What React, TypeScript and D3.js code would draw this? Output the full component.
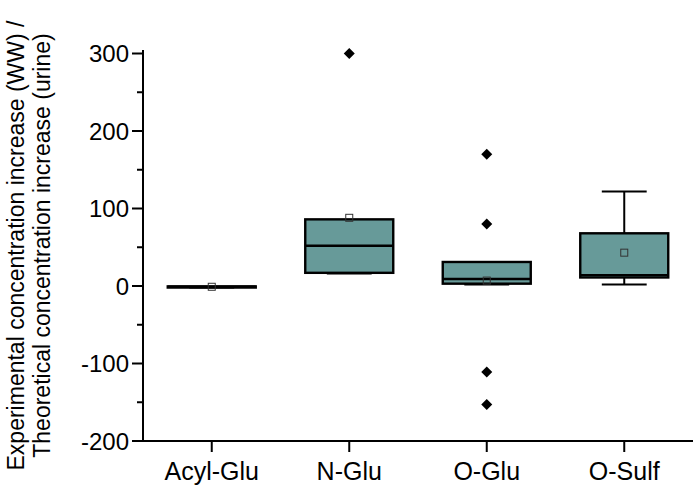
import React from "react";
import * as d3 from "d3";

const categories = ["Acyl-Glu", "N-Glu", "O-Glu", "O-Sulf"];
const whiskerLow = [-2, 16, 2, 2];
const q1 = [-2, 17, 3, 11];
const median = [-1, 52, 9, 14];
const q3 = [-0.5, 86, 31, 68];
const whiskerHigh = [-0.5, 86, 31, 122];
const means = [-1, 88, 7, 43];
const outliers: number[][] = [[], [300], [170, 80, -111, -153], []];
const majorTicks = [-200, -100, 0, 100, 200, 300];
const minorTicks = [-150, -50, 50, 150, 250];

const W = 698;
const H = 494;
const FONT = "'Liberation Sans', Arial, sans-serif";

export default function App() {
  const x = d3.scaleBand<string>().domain(categories).range([143, 693]).padding(0);
  const y = d3.scaleLinear().domain([-200, 300]).range([441, 53.5]);
  const bw = x.bandwidth() * 0.64;
  const capW = bw * 0.51;
  const fill = "#679a99";
  const axisY = y(-200);

  return (
    <svg width={W} height={H} style={{ position: "absolute", left: 0, top: 0, background: "#fff" }}>
      {/* boxes */}
      {categories.map((c, i) => {
        const cx = (x(c) as number) + x.bandwidth() / 2;
        const top = y(q3[i]);
        const bot = y(q1[i]);
        return (
          <g key={c}>
            {whiskerHigh[i] > q3[i] && (
              <g stroke="#000" strokeWidth={2}>
                <line x1={cx} x2={cx} y1={y(whiskerHigh[i])} y2={top} />
                <line x1={cx - capW / 2} x2={cx + capW / 2} y1={y(whiskerHigh[i])} y2={y(whiskerHigh[i])} />
              </g>
            )}
            <g stroke="#000" strokeWidth={2}>
              <line x1={cx} x2={cx} y1={bot} y2={y(whiskerLow[i])} />
              <line x1={cx - capW / 2} x2={cx + capW / 2} y1={y(whiskerLow[i])} y2={y(whiskerLow[i])} />
            </g>
            <rect
              x={cx - bw / 2}
              y={top}
              width={bw}
              height={Math.max(bot - top, 0.5)}
              fill={fill}
              stroke="#000"
              strokeWidth={2.4}
            />
            <line x1={cx - bw / 2} x2={cx + bw / 2} y1={y(median[i])} y2={y(median[i])} stroke="#000" strokeWidth={2.4} />
            <rect
              x={cx - 3.5}
              y={y(means[i]) - 3.5}
              width={7}
              height={7}
              fill="none"
              stroke="#333"
              strokeWidth={1}
            />
            {outliers[i].map((v, k) => {
              const py = y(v);
              return (
                <path
                  key={k}
                  d={`M${cx},${py - 5.5}L${cx + 5.5},${py}L${cx},${py + 5.5}L${cx - 5.5},${py}Z`}
                  fill="#000"
                />
              );
            })}
          </g>
        );
      })}

      {/* y axis */}
      <line x1={143} x2={143} y1={50} y2={axisY + 1} stroke="#000" strokeWidth={2} />
      {majorTicks.map((t) => (
        <g key={t}>
          <line x1={132} x2={143} y1={y(t)} y2={y(t)} stroke="#000" strokeWidth={2} />
          <text x={129} y={y(t)} dy="0.36em" textAnchor="end" fontFamily={FONT} fontSize={24} fill="#000">
            {t}
          </text>
        </g>
      ))}
      {minorTicks.map((t) => (
        <line key={t} x1={137} x2={143} y1={y(t)} y2={y(t)} stroke="#000" strokeWidth={2} />
      ))}

      {/* x axis */}
      <line x1={142} x2={693} y1={axisY} y2={axisY} stroke="#000" strokeWidth={2} />
      {categories.map((c) => {
        const cx = (x(c) as number) + x.bandwidth() / 2;
        return (
          <g key={c}>
            <line x1={cx} x2={cx} y1={axisY} y2={axisY + 11} stroke="#000" strokeWidth={2} />
            <text x={cx} y={axisY + 39} textAnchor="middle" fontFamily={FONT} fontSize={25} fill="#000">
              {c}
            </text>
          </g>
        );
      })}

      {/* y axis title */}
      <g transform={`translate(0,${(50 + axisY) / 2}) rotate(-90)`}>
        <text x={0} y={24} textAnchor="middle" fontFamily={FONT} fontSize={23} fill="#000">
          Experimental concentration increase (WW) /
        </text>
        <text x={0} y={50} textAnchor="middle" fontFamily={FONT} fontSize={23} fill="#000">
          Theoretical concentration increase (urine)
        </text>
      </g>
    </svg>
  );
}
